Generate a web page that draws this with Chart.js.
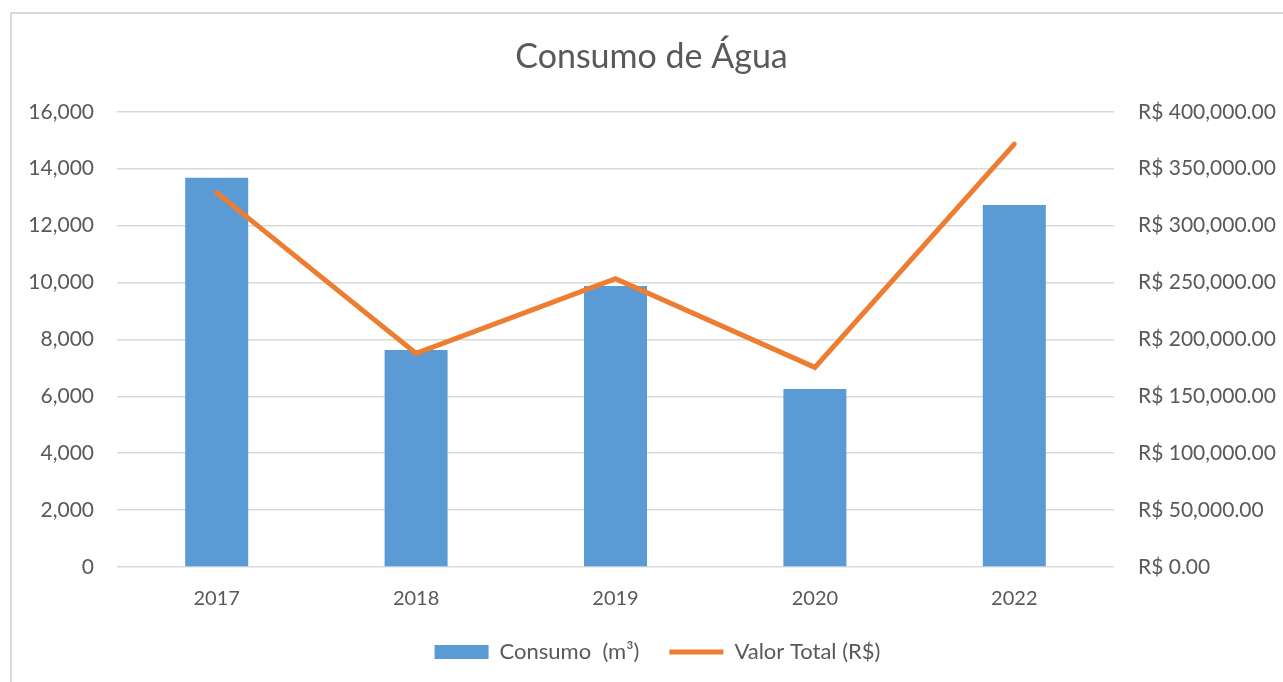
<!DOCTYPE html>
<html>
<head>
<meta charset="utf-8">
<script src="https://cdn.jsdelivr.net/npm/chart.js@4.4.1/dist/chart.umd.min.js"></script>
<style>
    html, body { margin: 0; padding: 0; background: #fff; }
    #wrap { position: relative; width: 1283px; height: 682px; overflow: hidden; }
    #frame { position: absolute; left: 10px; top: 12px; width: 1300px; height: 700px; border-left: 2px solid #d9d9d9; border-top: 2px solid #d9d9d9; }
    canvas { position: absolute; left: 0; top: 0; }
</style>
</head>
<body>
<div id="wrap">
    <div id="frame"></div>
    <canvas id="agua" width="1283" height="682"></canvas>
</div>
<script>
const anos = ["2017", "2018", "2019", "2020", "2022"]
const consumo = [13680, 7625, 9880, 6255, 12720]
const valorTotal = [329000, 187700, 253400, 175400, 371600]

const fonte = "Lato, 'Open Sans', sans-serif"
const cinza = "#595959"

// title and legend sit centred on the framed area, a bit right of the canvas centre
const shiftBlocks = {
    id: "shiftBlocks",
    afterLayout(chart) {
        if (chart.titleBlock) {
            chart.titleBlock.left += 10
            chart.titleBlock.right += 10
        }
        if (chart.legend) {
            chart.legend.left += 16
            chart.legend.right += 16
        }
    }
}

function renderWaterChart(canvasId) {
    const target = document.getElementById(canvasId)

    return new Chart(target, {
        data: {
            labels: anos,
            datasets: [{
                type: "bar",
                label: "Consumo  (m³)",
                data: consumo,
                backgroundColor: "#5b9bd5",
                barPercentage: 0.316,
                categoryPercentage: 1,
                yAxisID: "y",
                order: 1,
                pointStyle: "rect"
            }, {
                type: "line",
                label: "Valor Total (R$)",
                data: valorTotal,
                borderColor: "#ed7d31",
                backgroundColor: "#ed7d31",
                borderWidth: 5,
                borderCapStyle: "round",
                pointRadius: 0,
                tension: 0,
                yAxisID: "y1",
                order: 0,
                pointStyle: "line"
            }]
        },
        plugins: [shiftBlocks],
        options: {
            responsive: false,
            animation: false,
            layout: { padding: { left: 0, right: 0, top: 0, bottom: 9 } },
            plugins: {
                title: {
                    display: true,
                    text: "Consumo de Água",
                    color: cinza,
                    font: { family: fonte, size: 34, weight: "normal" },
                    padding: { top: 37, bottom: 34 }
                },
                legend: {
                    position: "bottom",
                    labels: {
                        color: cinza,
                        font: { family: fonte, size: 22 },
                        usePointStyle: true,
                        pointStyleWidth: 54,
                        boxHeight: 14,
                        padding: 30,
                        sort: (a, b) => a.datasetIndex - b.datasetIndex
                    }
                },
                tooltip: { enabled: false }
            },
            scales: {
                x: {
                    grid: { display: false, drawTicks: false },
                    border: { display: false },
                    ticks: { color: cinza, font: { family: fonte, size: 20 }, padding: 20 },
                    afterFit: (scale) => { scale.height = 44 }
                },
                y: {
                    position: "left",
                    min: 0,
                    max: 16000,
                    grid: { color: "#d9d9d9", lineWidth: 1.5, drawTicks: false },
                    border: { display: false },
                    ticks: {
                        stepSize: 2000,
                        color: cinza,
                        font: { family: fonte, size: 21 },
                        padding: 23,
                        callback: (v) => v.toLocaleString("en-US")
                    },
                    afterFit: (scale) => { scale.width = 117 }
                },
                y1: {
                    position: "right",
                    min: 0,
                    max: 400000,
                    grid: { display: false, drawTicks: false },
                    border: { display: false },
                    ticks: {
                        stepSize: 50000,
                        color: cinza,
                        font: { family: fonte, size: 21 },
                        padding: 24,
                        callback: (v) => "R$ " + v.toLocaleString("en-US", { minimumFractionDigits: 2, maximumFractionDigits: 2 })
                    },
                    afterFit: (scale) => { scale.width = 169 }
                }
            }
        }
    })
}

renderWaterChart("agua")
</script>
</body>
</html>
